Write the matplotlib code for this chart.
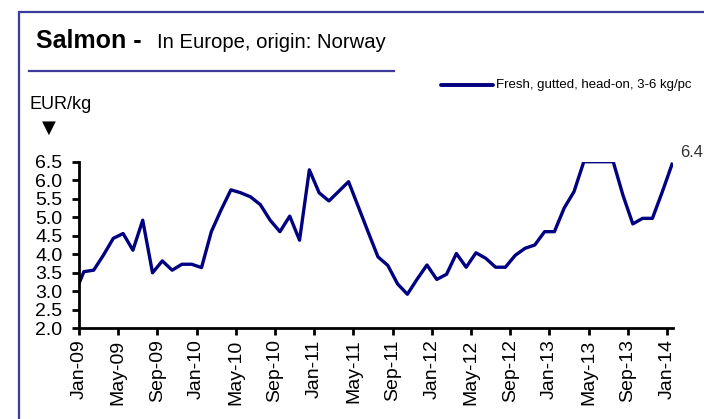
import numpy as np
import matplotlib.pyplot as plt
from matplotlib.lines import Line2D
from matplotlib.patches import Rectangle

plt.rcParams['font.family'] = ['Liberation Sans', 'DejaVu Sans']

# monthly salmon price, EUR/kg (first point = start of Jan-09, then mid-month values)
month_pos = np.concatenate([[0.0], np.arange(61) + 0.5])
prices = [3.21,
          3.53, 3.57, 3.98, 4.43, 4.56, 4.11, 4.92, 3.50, 3.82, 3.57, 3.73, 3.73,
          3.64, 4.61, 5.20, 5.74, 5.66, 5.55, 5.34, 4.92, 4.61, 5.03, 4.38, 6.28,
          5.66, 5.44, 5.70, 5.96, 5.28, 4.60, 3.93, 3.70, 3.20, 2.92, 3.33, 3.71,
          3.32, 3.46, 4.02, 3.65, 4.04, 3.89, 3.65, 3.65, 3.97, 4.16, 4.25, 4.61,
          4.61, 5.25, 5.69, 6.50, 6.50, 6.50, 6.50, 5.59, 4.82, 4.97, 4.97, 5.68,
          6.43]
tick_pos = [0, 4, 8, 12, 16, 20, 24, 28, 32, 36, 40, 44, 48, 52, 56, 60]
tick_labels = ['Jan-09', 'May-09', 'Sep-09', 'Jan-10', 'May-10', 'Sep-10',
               'Jan-11', 'May-11', 'Sep-11', 'Jan-12', 'May-12', 'Sep-12',
               'Jan-13', 'May-13', 'Sep-13', 'Jan-14']
y_ticks = [2.0, 2.5, 3.0, 3.5, 4.0, 4.5, 5.0, 5.5, 6.0, 6.5]

W, H = 704, 419
navy = '#000080'
frame_col = '#3c3c9c'

fig = plt.figure(figsize=(W / 100, H / 100), dpi=100)
ax = fig.add_axes([79 / W, 1 - 328.3 / H, (673 - 79) / W, (328.3 - 161.7) / H])

ax.plot(month_pos, prices, color=navy, lw=2.4, solid_joinstyle='round')
ax.set_xlim(0, 60.6)
ax.set_ylim(2.0, 6.5)
ax.set_yticks(y_ticks)
ax.set_yticklabels(['%.1f' % v for v in y_ticks])
ax.set_xticks(tick_pos)
ax.set_xticklabels(tick_labels, rotation=90)
ax.tick_params(axis='both', labelsize=14, length=5, width=2, direction='out', color='black')
ax.tick_params(axis='y', pad=7)
ax.tick_params(axis='x', pad=3)
for s in ['top', 'right']:
    ax.spines[s].set_visible(False)
for s in ['left', 'bottom']:
    ax.spines[s].set_linewidth(2)
ax.patch.set_alpha(0)

# last value label
ax.annotate('%.1f' % prices[-1], xy=(month_pos[-1], prices[-1]), xytext=(6, 8.5),
            textcoords='offset points', fontsize=12, color='#333333',
            ha='left', va='center', annotation_clip=False)

# frame, title, underline
fig.add_artist(Rectangle((19 / W, -0.05), 1.2, 1 - 11.7 / H + 0.05, fill=False,
                         ec=frame_col, lw=1.6, transform=fig.transFigure))
fig.text(36 / W, 1 - 48 / H, 'Salmon -', fontsize=18, fontweight='bold', va='baseline')
fig.text(157 / W, 1 - 48 / H, 'In Europe, origin: Norway', fontsize=14.6, va='baseline')
fig.add_artist(Line2D([29 / W, 394 / W], [1 - 70.7 / H] * 2, color=frame_col, lw=1.6))

# legend
fig.add_artist(Line2D([441 / W, 493 / W], [1 - 85 / H] * 2, color=navy, lw=2.8,
                      solid_capstyle='round'))
fig.text(496 / W, 1 - 85 / H, 'Fresh, gutted, head-on, 3-6 kg/pc', fontsize=9.5,
         va='center', ha='left')

# unit
fig.text(30 / W, 1 - 104.5 / H, 'EUR/kg', fontsize=13, va='center', ha='left')
fig.text(49 / W, 1 - 128 / H, '\u25BC', fontsize=13, va='center', ha='center',
         family=['DejaVu Sans'])

fig.savefig('out.png', dpi=100, facecolor='white')
